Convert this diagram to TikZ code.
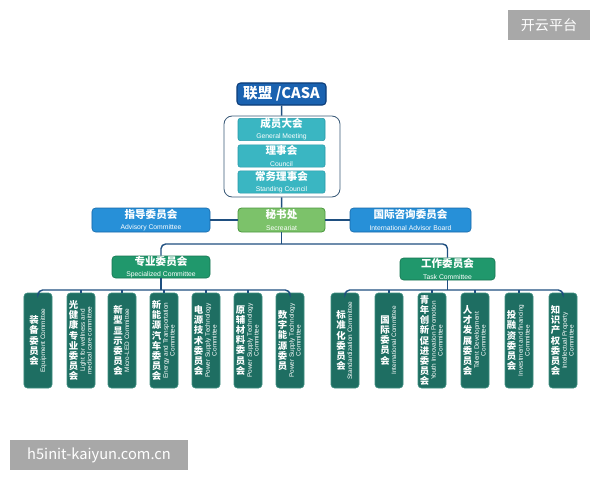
\documentclass[tikz,border=0pt]{standalone}
\usepackage{fontspec}
\usepackage{graphicx}
\setmainfont{Liberation Sans}
\newfontfamily\cjk{Noto Sans CJK SC}
\definecolor{linkblue}{HTML}{1F4F80}
\definecolor{casablue}{HTML}{1A62B0}
\definecolor{casaedge}{HTML}{0C3C78}
\definecolor{frameedge}{HTML}{3A5A78}
\definecolor{memberteal}{HTML}{3AB6C2}
\definecolor{memberedge}{HTML}{2898A8}
\definecolor{secgreen}{HTML}{7CC26A}
\definecolor{secedge}{HTML}{4E9A40}
\definecolor{sideblue}{HTML}{2790D8}
\definecolor{sideedge}{HTML}{1868A8}
\definecolor{groupgreen}{HTML}{20986C}
\definecolor{groupedge}{HTML}{157450}
\definecolor{cmtgreen}{HTML}{1E6E62}
\definecolor{cmtedge}{HTML}{3E8E80}
\definecolor{wmgray}{HTML}{A8A8A8}
\newcommand{\zhtxt}[1]{{\cjk\bfseries\fontsize{9}{9.5}\selectfont #1}}
\newcommand{\entxt}[1]{{\fontsize{5.8}{6}\selectfont #1}}
\newcommand{\zhcol}[1]{\parbox{9pt}{\cjk\bfseries\fontsize{8}{8.6}\selectfont\lineskiplimit=-\maxdimen\centering #1}}
\newcommand{\enrot}[1]{\rotatebox{90}{\fontsize{5.5}{5.8}\selectfont\begin{tabular}{@{}c@{}}#1\end{tabular}}}
\newcommand{\cmttext}[2]{$\vcenter{\hbox{\zhcol{#1}}}\hspace{1pt}\vcenter{\hbox{\enrot{#2}}}$}
\begin{document}
\begin{tikzpicture}[x=0.03cm,y=-0.03cm,
    link/.style={draw=linkblue,line width=1.2pt},
    casabox/.style={draw=casaedge,fill=casablue,text=white,rounded corners=3pt,line width=0.9pt,
      minimum width=2.67cm,minimum height=0.66cm,inner sep=0pt},
    frame/.style={draw=frameedge,fill=white,rounded corners=7pt,line width=0.7pt,
      minimum width=3.48cm,minimum height=2.43cm},
    member/.style={draw=memberedge,fill=memberteal,text=white,rounded corners=2pt,line width=0.5pt,
      minimum width=2.61cm,minimum height=0.67cm,inner sep=0pt,align=center},
    secbox/.style={draw=secedge,fill=secgreen,text=white,rounded corners=3pt,line width=0.7pt,
      minimum width=2.61cm,minimum height=0.72cm,inner sep=0pt,align=center},
    sidebox/.style={draw=sideedge,fill=sideblue,text=white,rounded corners=3pt,line width=0.5pt,
      minimum height=0.72cm,inner sep=0pt,align=center},
    groupbox/.style={draw=groupedge,fill=groupgreen,text=white,rounded corners=3pt,line width=0.5pt,
      minimum height=0.66cm,inner sep=0pt,align=center},
    cmtbox/.style={draw=cmtedge,fill=cmtgreen,text=white,rounded corners=3pt,line width=0.6pt,
      minimum width=0.84cm,minimum height=2.85cm,inner sep=0pt},
    wmark/.style={fill=wmgray,text=white,minimum height=0.9cm,inner sep=0pt}]
  \useasboundingbox (0,0) rectangle (600,480);

  % top: alliance and its assembly
  \node[frame] (assembly) at (282,156.5) {};
  \node[casabox] (casa) at (281.5,94) {\cjk\bfseries\fontsize{12.5}{12.5}\selectfont 联盟 /CASA};
  \node[member] (general) at (281.5,129.5) {\zhtxt{成员大会}\\[-2.5pt]\entxt{General Meeting}};
  \node[member] (council) at (281.5,156) {\zhtxt{理事会}\\[-2.5pt]\entxt{Council}};
  \node[member] (standing) at (281.5,182) {\zhtxt{常务理事会}\\[-2.5pt]\entxt{Standing Council}};

  \node[secbox] (secr) at (281.5,220) {\zhtxt{秘书处}\\[-2.5pt]\entxt{Secreariat}};
  \node[sidebox,minimum width=3.54cm] (advisory) at (151,220) {\zhtxt{指导委员会}\\[-2.5pt]\entxt{Advisory Committee}};
  \node[sidebox,minimum width=3.63cm] (intl) at (410.5,220) {\zhtxt{国际咨询委员会}\\[-2.5pt]\entxt{International Advisor Board}};

  \node[groupbox,minimum width=2.94cm] (spec) at (161,267) {\zhtxt{专业委员会}\\[-2.5pt]\entxt{Specialized Committee}};
  \node[groupbox,minimum width=2.85cm] (task) at (447.5,269) {\zhtxt{工作委员会}\\[-2.5pt]\entxt{Task Committee}};

  % specialized committees
  \node[cmtbox] (l1) at (38,340.5) {\cmttext{装\\备\\委\\员\\会}{Equipment Committee}};
  \node[cmtbox] (l2) at (81,340.5) {\cmttext{光\\健\\康\\专\\业\\委\\员\\会}{Light for wellness and\\medical care committee}};
  \node[cmtbox] (l3) at (122,340.5) {\cmttext{新\\型\\显\\示\\委\\员\\会}{Micro-LED Committee}};
  \node[cmtbox] (l4) at (164,340.5) {\cmttext{新\\能\\源\\汽\\车\\委\\员\\会}{Energy and Transportation\\Committee}};
  \node[cmtbox] (l5) at (206,340.5) {\cmttext{电\\源\\技\\术\\委\\员\\会}{Power Supply Technology\\Committee}};
  \node[cmtbox] (l6) at (248,340.5) {\cmttext{原\\辅\\材\\料\\委\\员\\会}{Power Supply Technology\\Committee}};
  \node[cmtbox] (l7) at (290,340.5) {\cmttext{数\\字\\能\\源\\委\\员}{Power Supply Technology\\Committee}};

  % task committees
  \node[cmtbox] (r1) at (345,340.5) {\cmttext{标\\准\\化\\委\\员\\会}{Standardization Committee}};
  \node[cmtbox] (r2) at (389,340.5) {\cmttext{国\\际\\委\\员\\会}{International Committee}};
  \node[cmtbox] (r3) at (432,340.5) {\cmttext{青\\年\\创\\新\\促\\进\\委\\员\\会}{Youth Innovation Promotion\\Committee}};
  \node[cmtbox] (r4) at (475,340.5) {\cmttext{人\\才\\发\\展\\委\\员\\会}{Talent Development\\Committee}};
  \node[cmtbox] (r5) at (519,340.5) {\cmttext{投\\融\\资\\委\\员\\会}{Investment and financing\\Committee}};
  \node[cmtbox] (r6) at (563,340.5) {\cmttext{知\\识\\产\\权\\委\\员\\会}{Intellectual Property\\Committee}};

  % connectors
  \coordinate (split) at (281.5,244);
  \coordinate (lbus) at (161,290);
  \coordinate (rbus) at (447.5,290);
  \draw[link] (casa) -- (assembly);
  \draw[link] (assembly) -- (secr);
  \draw[link] (advisory) -- (secr);
  \draw[link] (secr) -- (intl);
  \draw[link] (secr) -- (split);
  \draw[link,rounded corners=4pt] (spec) |- (split) -| (task);
  \draw[link] (spec) -- (lbus);
  \draw[link] (task) -- (rbus);
  \draw[link,rounded corners=4pt] (l1) |- (lbus) -| (l7);
  \draw[link,rounded corners=4pt] (r1) |- (rbus) -| (r6);
  \foreach \n in {l2,l3,l4,l5,l6}
    \draw[link] (\n) -- (\n.north |- lbus);
  \foreach \n in {r2,r3,r4,r5}
    \draw[link] (\n) -- (\n.north |- rbus);

  % watermarks
  \node[wmark,minimum width=2.46cm] (wmtop) at (549,25) {\cjk\fontsize{12}{12}\selectfont 开云平台};
  \node[wmark,minimum width=5.34cm] (wmbottom) at (99,455) {\cjk\fontsize{12.5}{12.5}\selectfont h5init-kaiyun.com.cn};
\end{tikzpicture}
\end{document}
